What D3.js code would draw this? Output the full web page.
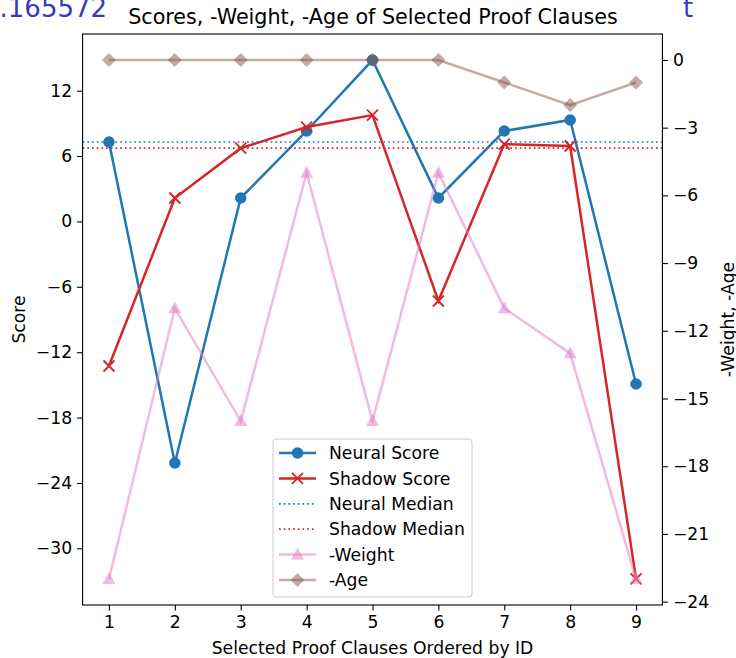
<!DOCTYPE html>
<html><head><meta charset="utf-8">
<script src="https://cdn.jsdelivr.net/npm/d3@7"></script>
<style>
body{margin:0;background:#fff;}
svg{font-family:"DejaVu Sans",sans-serif;display:block;}
</style></head>
<body><svg id="c" width="736" height="658"></svg>
<script>
const clauses = [1,2,3,4,5,6,7,8,9];
const neuralScore = [7.29, -22.17, 2.15, 8.30, 14.81, 2.15, 8.30, 9.31, -14.92];
const shadowScore = [-13.27, 2.15, 6.72, 8.66, 9.76, -7.30, 7.10, 6.92, -32.8];
const neuralMedian = 7.29;
const shadowMedian = 6.72;
const negWeight = [-23, -11, -16, -5, -16, -5, -11, -13, -23];
const negAge = [0, 0, 0, 0, 0, 0, -1, -2, -1];
const leftTicks = [-30, -24, -18, -12, -6, 0, 6, 12];
const rightTicks = [-24, -21, -18, -15, -12, -9, -6, -3, 0];
const legendLabels = ["Neural Score","Shadow Score","Neural Median","Shadow Median","-Weight","-Age"];

const svg = d3.select("#c");
const L=82.6, R=662.4, T=34, B=605;
const x = d3.scaleLinear().domain([0.6, 9.4]).range([L, R]);
const yL = d3.scaleLinear().domain([-35.2, 17.2]).range([B, T]);
const yR = d3.scaleLinear().domain([-24.15, 1.15]).range([B, T]);
const fs = 17.2;
const minus = s => String(s).replace("-", "\u2212");

// stray clipped text at top
svg.append("text").attr("x",-17).attr("y",17).attr("font-size",26).attr("fill","#3b3bb3").text("0.165572");
svg.append("text").attr("x",683).attr("y",17).attr("font-size",26).attr("fill","#3b3bb3").text("t");

// title
svg.append("text").attr("x",(L+R)/2+0.5).attr("y",23.5).attr("text-anchor","middle").attr("font-size",20.7).attr("fill","#000")
  .text("Scores, -Weight, -Age of Selected Proof Clauses");

// axes
const axL = d3.axisLeft(yL).tickValues(leftTicks).tickSize(5.5).tickPadding(5).tickFormat(minus);
const axR = d3.axisRight(yR).tickValues(rightTicks).tickSize(5.5).tickPadding(5).tickFormat(minus);
const axB = d3.axisBottom(x).tickValues(clauses).tickSize(5.5).tickPadding(5).tickFormat(d3.format("d"));
function style(g){g.select(".domain").remove();g.selectAll("line").attr("stroke","#000").attr("stroke-width",1.1);
  g.selectAll("text").attr("font-size",fs).attr("fill","#000").attr("font-family","DejaVu Sans");}
svg.append("g").attr("transform",`translate(${L},0)`).call(axL).call(style);
svg.append("g").attr("transform",`translate(${R},0)`).call(axR).call(style);
svg.append("g").attr("transform",`translate(0,${B})`).call(axB).call(style);

// axis labels
svg.append("text").attr("transform",`translate(25,${(T+B)/2}) rotate(-90)`).attr("text-anchor","middle").attr("font-size",fs).text("Score");
svg.append("text").attr("transform",`translate(734,${(T+B)/2}) rotate(-90)`).attr("text-anchor","middle").attr("font-size",fs).text("-Weight, -Age");
svg.append("text").attr("x",(L+R)/2).attr("y",654).attr("text-anchor","middle").attr("font-size",fs).text("Selected Proof Clauses Ordered by ID");

const plot = svg.append("g");
const line = (ys) => d3.line().x((d,i)=>x(clauses[i])).y(d=>ys(d));

function marker(g, type, cx, cy, color, op){
  if(type==="o") g.append("circle").attr("cx",cx).attr("cy",cy).attr("r",5.8).attr("fill",color).attr("fill-opacity",op);
  else if(type==="x") g.append("path").attr("d",`M${cx-5.5},${cy-5.5}L${cx+5.5},${cy+5.5}M${cx-5.5},${cy+5.5}L${cx+5.5},${cy-5.5}`).attr("stroke",color).attr("stroke-width",1.9).attr("fill","none");
  else if(type==="^") g.append("path").attr("d",`M${cx},${cy-7}L${cx+6.5},${cy+5}L${cx-6.5},${cy+5}Z`).attr("fill",color).attr("fill-opacity",op);
  else if(type==="D") g.append("path").attr("d",`M${cx},${cy-7}L${cx+7},${cy}L${cx},${cy+7}L${cx-7},${cy}Z`).attr("fill",color).attr("fill-opacity",op);
}
function series(vals, ys, color, type, op){
  plot.append("path").datum(vals).attr("d",line(ys)).attr("fill","none").attr("stroke",color).attr("stroke-width",2.5).attr("stroke-opacity",op);
  vals.forEach((v,i)=>marker(plot,type,x(clauses[i]),ys(v),color,op));
}
// ax1
series(neuralScore, yL, "#1f77b4", "o", 1);
series(shadowScore, yL, "#d62728", "x", 1);
plot.append("line").attr("x1",L).attr("x2",R).attr("y1",yL(neuralMedian)).attr("y2",yL(neuralMedian))
  .attr("stroke","#1f77b4").attr("stroke-width",1.7).attr("stroke-dasharray","1.7,3");
plot.append("line").attr("x1",L).attr("x2",R).attr("y1",yL(shadowMedian)).attr("y2",yL(shadowMedian))
  .attr("stroke","#d62728").attr("stroke-width",1.7).attr("stroke-dasharray","1.7,3");
// ax2
series(negWeight, yR, "#e377c2", "^", 0.5);
series(negAge, yR, "#8c564b", "D", 0.5);

// frame
svg.append("rect").attr("x",L).attr("y",T).attr("width",R-L).attr("height",B-T).attr("fill","none").attr("stroke","#000").attr("stroke-width",1.1);

// legend
const lg = svg.append("g");
lg.append("rect").attr("x",273).attr("y",439).attr("width",199).attr("height",158).attr("rx",3)
  .attr("fill","#fff").attr("fill-opacity",0.8).attr("stroke","#ccc").attr("stroke-width",1);
const specs = [
  {c:"#1f77b4",m:"o",op:1,dash:null},
  {c:"#d62728",m:"x",op:1,dash:null},
  {c:"#1f77b4",m:null,op:1,dash:"1.7,3"},
  {c:"#d62728",m:null,op:1,dash:"1.7,3"},
  {c:"#e377c2",m:"^",op:0.5,dash:null},
  {c:"#8c564b",m:"D",op:0.5,dash:null}
];
legendLabels.forEach((lab,i)=>{
  const yy = 453 + i*25.4;
  const s = specs[i];
  const ln = lg.append("line").attr("x1",279).attr("x2",316).attr("y1",yy).attr("y2",yy).attr("stroke",s.c)
    .attr("stroke-width",s.dash?1.7:2.5).attr("stroke-opacity",s.op);
  if(s.dash) ln.attr("stroke-dasharray",s.dash);
  if(s.m) marker(lg,s.m,297.5,yy,s.c,s.op);
  lg.append("text").attr("x",329).attr("y",yy).attr("dy","0.36em").attr("font-size",fs).text(lab);
});
</script></body></html>
